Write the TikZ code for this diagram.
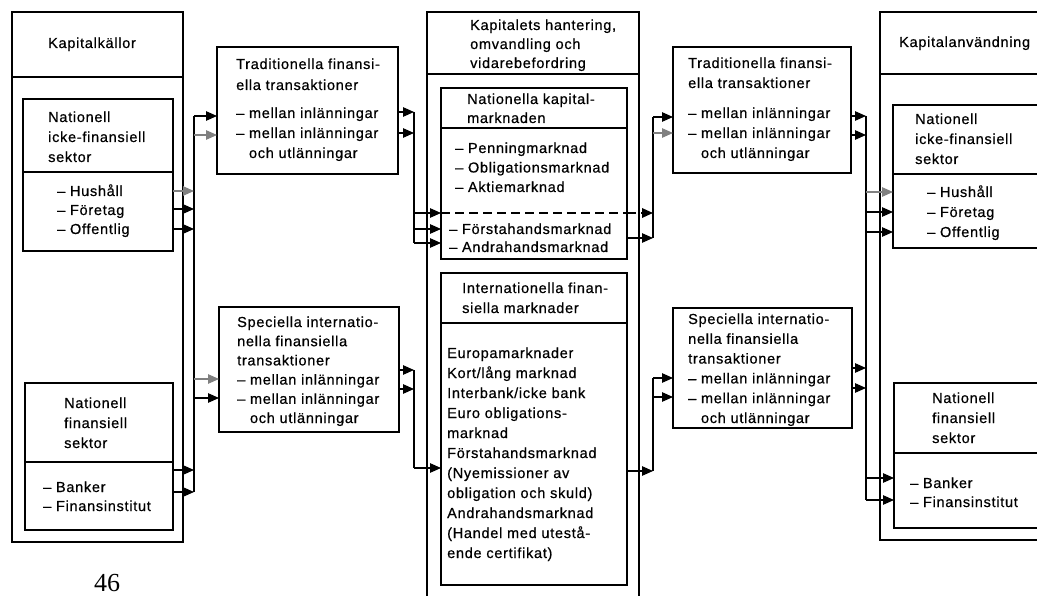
\documentclass[tikz,border=0pt]{standalone}
\usepackage{fontspec}
\setmainfont{Liberation Sans}[LetterSpace=5, FakeBold=0.6]
\newfontfamily\pagefont{Liberation Serif}
\usetikzlibrary{arrows.meta}
\newcommand{\fsz}[1]{\fontsize{14.5}{#1}\selectfont}
\begin{document}
\begin{tikzpicture}[x=1pt,y=-1pt,
  box/.style={draw, line width=1.8pt, anchor=north west, inner sep=0pt, outer sep=0pt},
  divider/.style={line width=1.8pt},
  conn/.style={line width=1.2pt},
  arr/.style={conn, -{Triangle[length=11pt,width=9.5pt]}},
  garr/.style={arr, draw=black!50, fill=black!50},
  dashline/.style={line width=1.8pt, dash pattern=on 9pt off 5pt},
  txt/.style={anchor=base west, inner sep=0pt, align=left, font=\fsz{20}},
  ls/.style={font=\fsz{#1}}]
\clip (0,0) rectangle (1037,596);
\fill[white] (0,0) rectangle (1037,596);

% ---------- boxes ----------
\node[box, minimum width=171pt, minimum height=530pt] (L) at (12,12) {};
\node[box, minimum width=150pt, minimum height=152pt] (L1) at (23,99) {};
\node[box, minimum width=148pt, minimum height=147pt] (L2) at (25,383) {};
\node[box, minimum width=181pt, minimum height=127pt] (TL) at (217,47) {};
\node[box, minimum width=180pt, minimum height=125pt] (SL) at (219,307) {};
\node[box, minimum width=212pt, minimum height=600pt] (C) at (427,12) {};
\node[box, minimum width=186pt, minimum height=171pt] (NK) at (441,88) {};
\node[box, minimum width=186pt, minimum height=312pt] (IF) at (441,273) {};
\node[box, minimum width=178pt, minimum height=126pt] (TR) at (673,47) {};
\node[box, minimum width=179pt, minimum height=120pt] (SR) at (673,308) {};
\node[box, minimum width=180pt, minimum height=528pt] (R) at (880,12) {};
\node[box, minimum width=170pt, minimum height=143pt] (R1) at (893,105) {};
\node[box, minimum width=170pt, minimum height=145pt] (R2) at (894,383) {};

% dividers
\draw[divider] (L.west |- 0,77) -- (L.east |- 0,77);
\draw[divider] (L1.west |- 0,172) -- (L1.east |- 0,172);
\draw[divider] (L2.west |- 0,462) -- (L2.east |- 0,462);
\draw[divider] (C.west |- 0,74) -- (C.east |- 0,74);
\draw[divider] (NK.west |- 0,128) -- (NK.east |- 0,128);
\draw[divider] (IF.west |- 0,323) -- (IF.east |- 0,323);
\draw[divider] (R.west |- 0,74) -- (R.east |- 0,74);
\draw[divider] (R1.west |- 0,174) -- (R1.east |- 0,174);
\draw[divider] (R2.west |- 0,453) -- (R2.east |- 0,453);

% ---------- bus coordinates ----------
\coordinate (lbT) at (194,116);  \coordinate (lbB) at (194,492);
\coordinate (c1T) at (414,112);  \coordinate (c1B) at (414,243);
\coordinate (c2T) at (414,370);  \coordinate (c2B) at (414,468);
\coordinate (c3T) at (653,117);  \coordinate (c3B) at (653,238);
\coordinate (c4T) at (653,378);  \coordinate (c4B) at (653,471);
\coordinate (rbT) at (866,116);  \coordinate (rbB) at (866,500);

\draw[conn] (lbT) -- (lbB);
\draw[conn] (c1T) -- (c1B);
\draw[conn] (c2T) -- (c2B);
\draw[conn] (c3T) -- (c3B);
\draw[conn] (c4T) -- (c4B);
\draw[conn] (rbT) -- (rbB);

% ---------- left side ----------
\draw[garr] (L1.east |- 0,191) -- (lbT |- 0,191);
\draw[arr]  (L1.east |- 0,209) -- (lbT |- 0,209);
\draw[arr]  (L1.east |- 0,229) -- (lbT |- 0,229);
\draw[arr]  (L2.east |- 0,470) -- (lbT |- 0,470);
\draw[arr]  (L2.east |- 0,492) -- (lbT |- 0,492);
\draw[arr]  (lbT) -- (TL.west |- lbT);
\draw[garr] (lbT |- 0,135) -- (TL.west |- 0,135);
\draw[garr] (lbT |- 0,379) -- (SL.west |- 0,379);
\draw[arr]  (lbT |- 0,398) -- (SL.west |- 0,398);

% ---------- left-centre ----------
\draw[arr] (TL.east |- c1T) -- (c1T);
\draw[arr] (TL.east |- 0,133) -- (c1T |- 0,133);
\draw[arr] (c1T |- 0,213) -- (NK.west |- 0,213);
\draw[arr] (c1T |- 0,229) -- (NK.west |- 0,229);
\draw[arr] (c1B) -- (NK.west |- c1B);
\draw[arr] (SL.east |- c2T) -- (c2T);
\draw[arr] (SL.east |- 0,389) -- (c2T |- 0,389);
\draw[arr] (c2B) -- (IF.west |- c2B);

% ---------- centre-right ----------
\draw[dashline] (NK.west |- 0,213) -- (NK.east |- 0,213);
\draw[arr, line width=1.8pt, dash pattern=on 9pt off 5pt] (NK.east |- 0,213) -- (c3T |- 0,213);
\draw[arr] (NK.east |- c3B) -- (c3B);
\draw[arr] (IF.east |- c4B) -- (c4B);
\draw[arr]  (c3T) -- (TR.west |- c3T);
\draw[garr] (c3T |- 0,133) -- (TR.west |- 0,133);
\draw[arr]  (c4T) -- (SR.west |- c4T);
\draw[arr]  (c4T |- 0,397) -- (SR.west |- 0,397);

% ---------- right side ----------
\draw[arr] (TR.east |- rbT) -- (rbT);
\draw[arr] (TR.east |- 0,135) -- (rbT |- 0,135);
\draw[arr] (SR.east |- 0,368) -- (rbT |- 0,368);
\draw[arr] (SR.east |- 0,388) -- (rbT |- 0,388);
\draw[garr] (rbT |- 0,192) -- (R1.west |- 0,192);
\draw[arr]  (rbT |- 0,212) -- (R1.west |- 0,212);
\draw[arr]  (rbT |- 0,232) -- (R1.west |- 0,232);
\draw[arr]  (rbT |- 0,478) -- (R2.west |- 0,478);
\draw[arr]  (rbB) -- (R2.west |- rbB);

% ---------- texts (anchor = baseline of the LAST line) ----------
\node[txt] (tL) at (48,48) {Kapitalkällor};
\node[txt] (tL1) at (48,162) {Nationell\\icke-finansiell\\sektor};
\node[txt, ls=19] (tL1l) at (57,234) {– Hushåll\\– Företag\\– Offentlig};
\node[txt] (tL2) at (64,448) {Nationell\\finansiell\\sektor};
\node[txt, ls=19] (tL2l) at (43,511) {– Banker\\– Finansinstitut};

\node[txt, ls=21] (tTL) at (236,90) {Traditionella finansi-\\ella transaktioner};
\node[txt] (tTLl) at (236,158) {– mellan inlänningar\\– mellan inlänningar\\\phantom{– }och utlänningar};
\node[txt, ls=19.2] (tSL) at (237,423) {Speciella internatio-\\nella finansiella\\transaktioner\\– mellan inlänningar\\– mellan inlänningar\\\phantom{– }och utlänningar};

\node[txt, ls=19] (tC) at (470,68) {Kapitalets hantering,\\omvandling och\\vidarebefordring};
\node[txt, ls=19] (tNK) at (467,123) {Nationella kapital-\\marknaden};
\node[txt, ls=19.5] (tNKl) at (455,192) {– Penningmarknad\\– Obligationsmarknad\\– Aktiemarknad};
\node[txt, ls=18] (tNKl2) at (449,252) {– Förstahandsmarknad\\– Andrahandsmarknad};
\node[txt] (tIF) at (462,313) {Internationella finan-\\siella marknader};
\node[txt] (tIFl) at (447,558) {Europamarknader\\Kort/lång marknad\\Interbank/icke bank\\Euro obligations-\\marknad\\Förstahandsmarknad\\(Nyemissioner av\\obligation och skuld)\\Andrahandsmarknad\\(Handel med utestå-\\ende certifikat)};

\node[txt] (tTR) at (688,88) {Traditionella finansi-\\ella transaktioner};
\node[txt] (tTRl) at (688,158) {– mellan inlänningar\\– mellan inlänningar\\\phantom{– }och utlänningar};
\node[txt, ls=19.8] (tSR) at (688,423) {Speciella internatio-\\nella finansiella\\transaktioner\\– mellan inlänningar\\– mellan inlänningar\\\phantom{– }och utlänningar};

\node[txt] (tR) at (899,47) {Kapitalanvändning};
\node[txt] (tR1) at (915,164) {Nationell\\icke-finansiell\\sektor};
\node[txt] (tR1l) at (927,237) {– Hushåll\\– Företag\\– Offentlig};
\node[txt] (tR2) at (932,443) {Nationell\\finansiell\\sektor};
\node[txt, ls=19] (tR2l) at (910,507) {– Banker\\– Finansinstitut};

\node[anchor=base west, inner sep=0pt, font=\pagefont\fontsize{26}{26}\selectfont] (page) at (94,591) {46};
\end{tikzpicture}
\end{document}
